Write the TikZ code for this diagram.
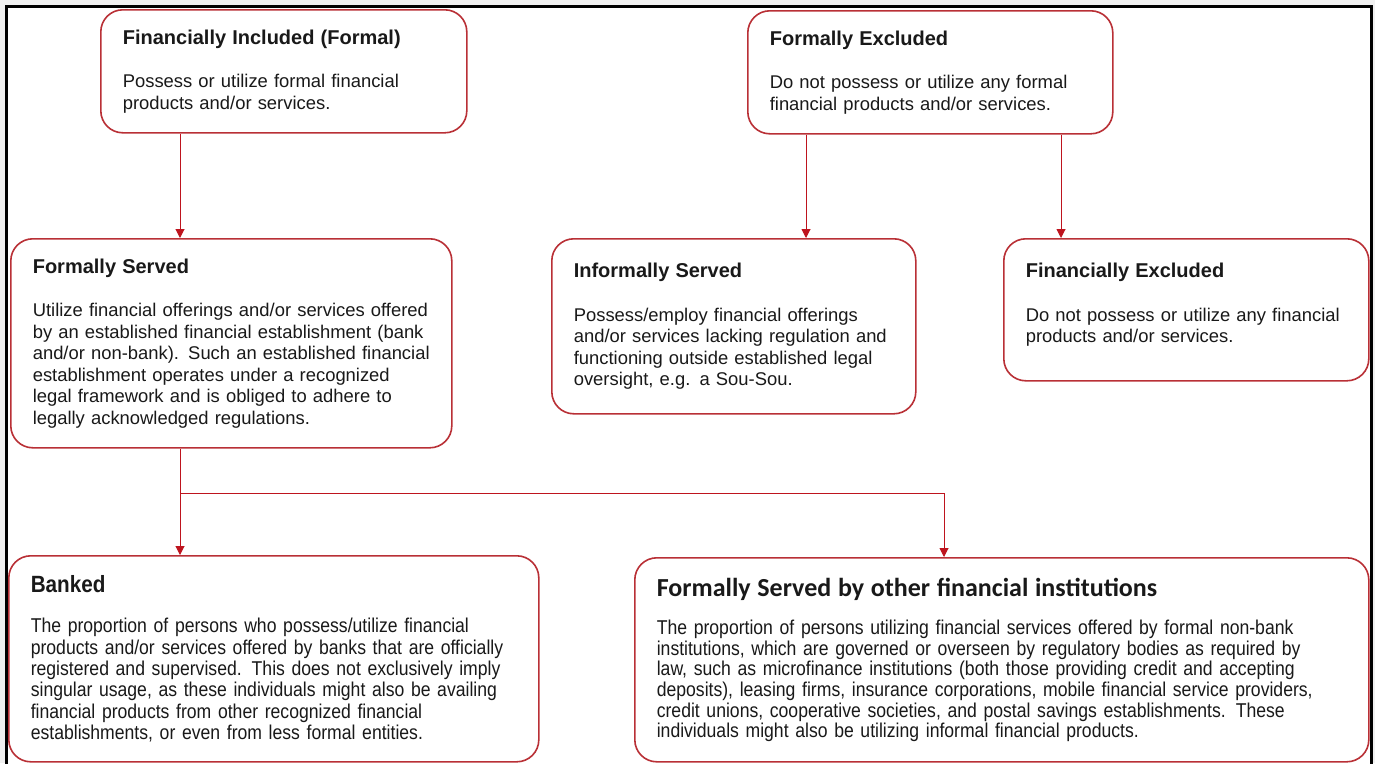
\documentclass[tikz,border=0pt]{standalone}
\usepackage{fontspec}
\setmainfont{Liberation Sans}
\newfontfamily\narrowfont[FakeStretch=0.88]{Liberation Sans}
\newfontfamily\califont{Carlito}
\usetikzlibrary{arrows.meta}
\definecolor{boxred}{RGB}{185,48,54}
\definecolor{linkred}{RGB}{190,20,30}
\definecolor{pagegray}{RGB}{240,240,240}
\definecolor{inkgray}{RGB}{25,25,25}
\tikzset{
  card/.style={draw=boxred, line width=1.6pt, rounded corners=22pt, fill=white, anchor=north west, align=left, inner xsep=22pt, inner ysep=0pt, text=inkgray, font=\fontsize{18.4}{21.5}\selectfont},
  widecard/.style={card, font=\narrowfont\fontsize{20}{21.4}\selectfont},
  link/.style={draw=linkred, line width=1pt, -{Triangle[length=9pt,width=9pt]}},
  bar/.style={draw=linkred, line width=1pt}
}
\newcommand{\hd}[1]{{\bfseries\fontsize{20}{22}\selectfont #1}\\[22pt]}

\begin{document}
\begin{tikzpicture}[x=1pt,y=-1pt]
  \useasboundingbox (0,0) rectangle (1375,763);
  \fill[pagegray] (0,0) rectangle (1375,763);
  \clip (0,0) rectangle (1375,763);
  \draw[line width=3pt, fill=white] (6,6) rectangle (1371,790);

  % top row
  \node[card, text width=322pt, minimum height=123pt] (incl) at (100,9)
    {\hd{Financially Included (Formal)}Possess or utilize formal financial\\products and/or services.};
  \node[card, text width=321pt, minimum height=123pt] (excl) at (747,10)
    {\hd{Formally Excluded}Do not possess or utilize any formal\\financial products and/or services.};

  % middle row
  \node[card, text width=397pt, minimum height=209pt] (served) at (10,238)
    {\hd{Formally Served}Utilize financial offerings and/or services offered\\by an established financial establishment (bank\\and/or non-bank). Such an established financial\\establishment operates under a recognized\\legal framework and is obliged to adhere to\\legally acknowledged regulations.};
  \node[card, text width=320pt, minimum height=175pt] (informal) at (551,238)
    {\hd{Informally Served}Possess/employ financial offerings\\and/or services lacking regulation and\\functioning outside established legal\\oversight, e.g. a Sou-Sou.};
  \node[card, text width=321pt, minimum height=142pt] (finexcl) at (1003,238)
    {\hd{Financially Excluded}Do not possess or utilize any financial\\products and/or services.\\[-8pt]\mbox{}};

  % bottom row
  \node[widecard, text width=486pt, minimum height=206pt] (banked) at (8,555)
    {{\bfseries\fontsize{23.5}{25}\selectfont Banked}\\[19pt]The proportion of persons who possess/utilize financial\\products and/or services offered by banks that are officially\\registered and supervised. This does not exclusively imply\\singular usage, as these individuals might also be availing\\financial products from other recognized financial\\establishments, or even from less formal entities.};
  \node[widecard, text width=690pt, minimum height=204pt, font=\narrowfont\fontsize{20}{20.6}\selectfont] (others) at (634,557)
    {{\califont\bfseries\fontsize{26}{28}\selectfont Formally Served by other financial institutions}\\[18pt]The proportion of persons utilizing financial services offered by formal non-bank\\institutions, which are governed or overseen by regulatory bodies as required by\\law, such as microfinance institutions (both those providing credit and accepting\\deposits), leasing firms, insurance corporations, mobile financial service providers,\\credit unions, cooperative societies, and postal savings establishments. These\\individuals might also be utilizing informal financial products.};

  % connectors
  \coordinate (split) at (180,493);
  \coordinate (turn) at (944,493);
  \coordinate (dropL) at (806,180);
  \coordinate (dropR) at (1061,180);
  \draw[link] (incl.south -| split) -- (served.north -| split);
  \draw[link] (excl.south -| dropL) -- (informal.north -| dropL);
  \draw[link] (excl.south -| dropR) -- (finexcl.north -| dropR);
  \draw[bar] (served.south -| split) -- (split) -- (turn);
  \draw[link] (split) -- (banked.north -| split);
  \draw[link] (turn) -- (others.north -| turn);
\end{tikzpicture}
\end{document}
